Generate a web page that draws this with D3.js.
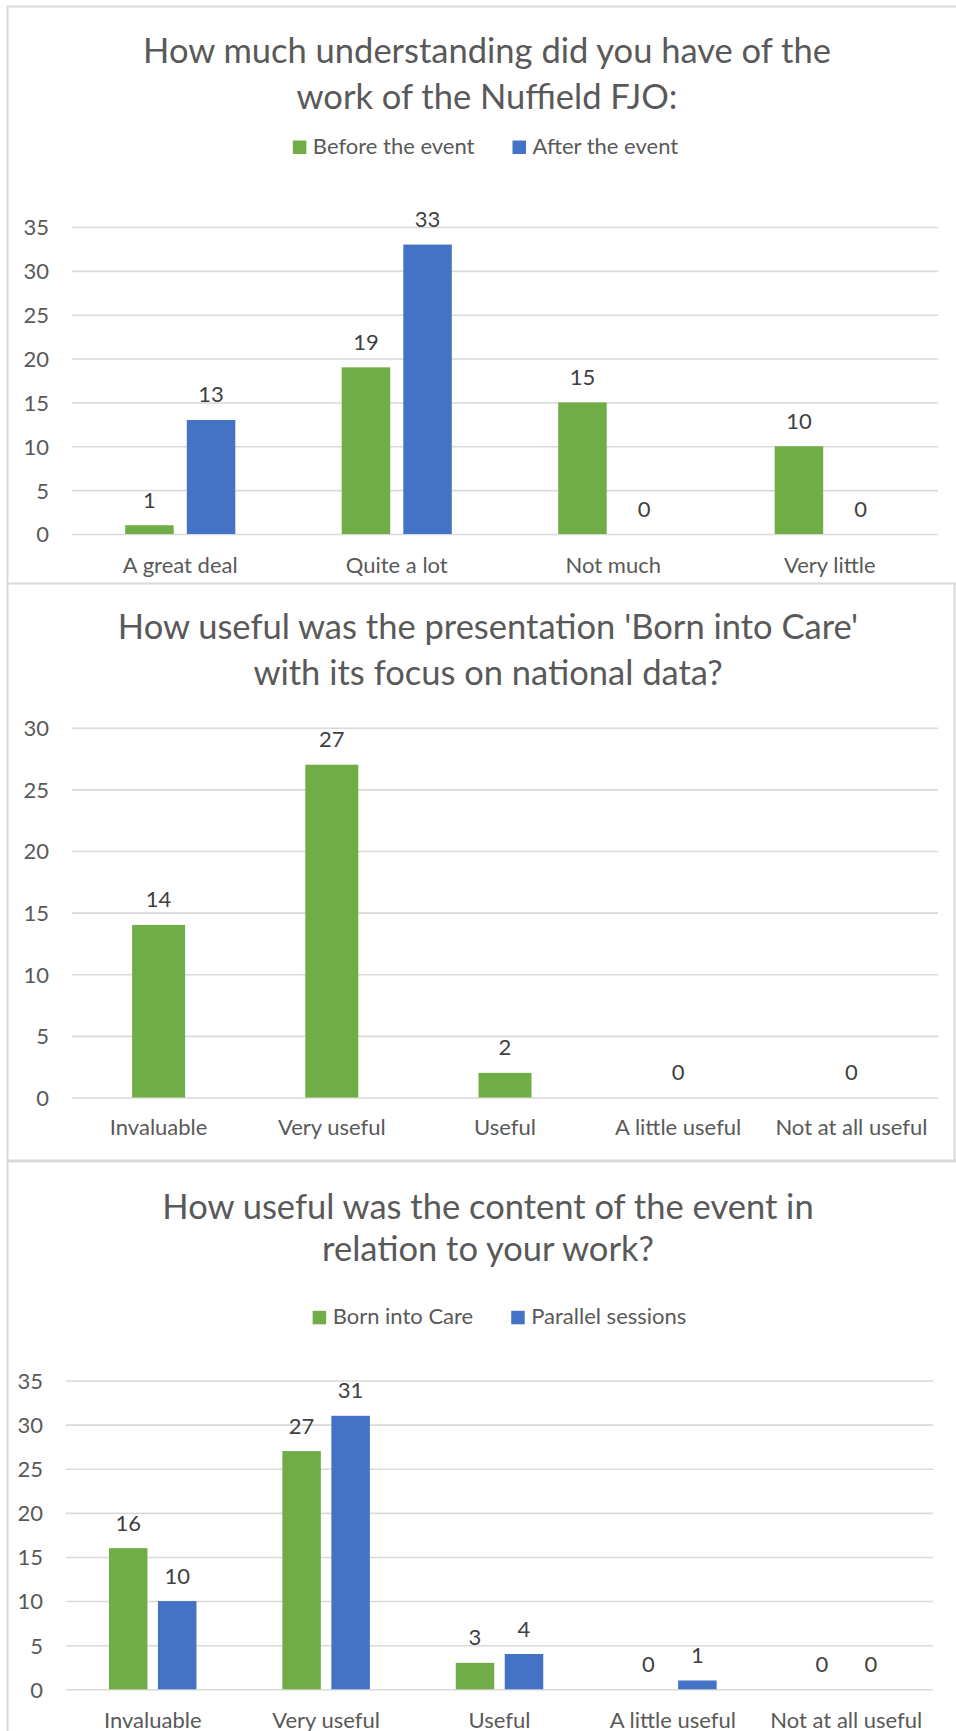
<!DOCTYPE html>
<html>
<head>
<meta charset="utf-8">
<script src="https://cdn.jsdelivr.net/npm/d3@7/dist/d3.min.js"></script>
<style>
  html, body { margin: 0; padding: 0; background: #ffffff; }
  svg { display: block; }
  text { font-family: "Lato", "Noto Sans", "Open Sans", sans-serif; }
</style>
</head>
<body>
<svg id="chart" width="956" height="1731"></svg>
<script>
// ---------- DATA ----------
const chart1Title = ["How much understanding did you have of the", "work of the Nuffield FJO:"];
const chart1Categories = ["A great deal", "Quite a lot", "Not much", "Very little"];
const chart1SeriesNames = ["Before the event", "After the event"];
const chart1Before = [1, 19, 15, 10];
const chart1After = [13, 33, 0, 0];
const chart1Ticks = [0, 5, 10, 15, 20, 25, 30, 35];

const chart2Title = ["How useful was the presentation 'Born into Care'", "with its focus on national data?"];
const chart2Categories = ["Invaluable", "Very useful", "Useful", "A little useful", "Not at all useful"];
const chart2Values = [14, 27, 2, 0, 0];
const chart2Ticks = [0, 5, 10, 15, 20, 25, 30];

const chart3Title = ["How useful was the content of the event in", "relation to your work?"];
const chart3Categories = ["Invaluable", "Very useful", "Useful", "A little useful", "Not at all useful"];
const chart3SeriesNames = ["Born into Care", "Parallel sessions"];
const chart3BornIntoCare = [16, 27, 3, 0, 0];
const chart3Parallel = [10, 31, 4, 1, 0];
const chart3Ticks = [0, 5, 10, 15, 20, 25, 30, 35];

const GREEN = "#70AD47";
const BLUE = "#4472C4";
const GRID = "#D9D9D9";
const TEXT = "#595959";
const LABEL = "#404040";

const svg = d3.select("#chart");

// ---------- FRAME ----------
const frame = svg.append("g");
frame.append("line").attr("x1", 7).attr("x2", 956).attr("y1", 6.5).attr("y2", 6.5)
  .attr("stroke", GRID).attr("stroke-width", 2);
frame.append("line").attr("x1", 7.5).attr("x2", 7.5).attr("y1", 6).attr("y2", 1731)
  .attr("stroke", GRID).attr("stroke-width", 2);
frame.append("line").attr("x1", 7).attr("x2", 956).attr("y1", 583.5).attr("y2", 583.5)
  .attr("stroke", GRID).attr("stroke-width", 2);
frame.append("line").attr("x1", 7).attr("x2", 956).attr("y1", 1161).attr("y2", 1161)
  .attr("stroke", GRID).attr("stroke-width", 3);
frame.append("line").attr("x1", 954.5).attr("x2", 954.5).attr("y1", 583).attr("y2", 1161)
  .attr("stroke", GRID).attr("stroke-width", 2);

// ---------- GENERIC CHART ----------
function drawChart(cfg) {
  const g = svg.append("g");

  // title
  cfg.title.forEach((line, i) => {
    g.append("text")
      .attr("x", cfg.titleX)
      .attr("y", cfg.titleY[i])
      .attr("text-anchor", "middle")
      .attr("font-size", 34.5)
      .attr("fill", TEXT)
      .text(line);
  });

  const y = d3.scaleLinear().domain([0, d3.max(cfg.ticks)]).range([cfg.y0, cfg.yTop]);
  const x = d3.scaleBand().domain(cfg.categories).range([cfg.xLeft, cfg.xRight]).paddingInner(0).paddingOuter(0);

  // gridlines
  const yAxis = d3.axisLeft(y).tickValues(cfg.ticks).tickSize(-(cfg.xRight - cfg.xLeft)).tickPadding(0).tickFormat(d3.format("d"));
  const ga = g.append("g").attr("transform", `translate(${cfg.xLeft},0)`).call(yAxis);
  ga.select(".domain").remove();
  ga.selectAll(".tick line").attr("stroke", GRID).attr("stroke-width", 1.6);
  ga.selectAll(".tick text")
    .attr("x", cfg.tickLabelX - cfg.xLeft)
    .attr("dy", "0.36em")
    .attr("font-size", 22)
    .attr("fill", TEXT)
    .attr("font-family", null);

  // x axis labels
  const xAxis = d3.axisBottom(x).tickSize(0).tickPadding(0);
  const gx = g.append("g").attr("transform", `translate(0,${cfg.y0})`).call(xAxis);
  gx.select(".domain").remove();
  gx.selectAll(".tick text")
    .attr("y", cfg.catLabelOffset)
    .attr("dy", 0)
    .attr("font-size", 22)
    .attr("fill", TEXT)
    .attr("font-family", null);

  // bars
  cfg.series.forEach((s, si) => {
    const sg = g.append("g");
    cfg.categories.forEach((c, ci) => {
      const v = s.values[ci];
      const cx = x(c) + x.bandwidth() / 2 + s.offset;
      if (v > 0) {
        sg.append("rect")
          .attr("x", cx - cfg.barWidth / 2)
          .attr("y", y(v))
          .attr("width", cfg.barWidth)
          .attr("height", y(0) - y(v))
          .attr("fill", s.color);
      }
      sg.append("text")
        .attr("x", cx)
        .attr("y", y(v) - 17.5)
        .attr("text-anchor", "middle")
        .attr("font-size", 22)
        .attr("fill", LABEL)
        .text(v);
    });
  });

  // legend
  if (cfg.legend) {
    const lg = g.append("g");
    const sq = 13.5, gapText = 6.5, gapItem = 38;
    let cursor = 0;
    cfg.series.forEach(s => {
      const it = lg.append("g");
      it.append("rect").attr("x", 0).attr("y", cfg.legendY - 13.5).attr("width", sq).attr("height", sq).attr("fill", s.color);
      const t = it.append("text").attr("x", sq + gapText).attr("y", cfg.legendY).attr("font-size", 22).attr("fill", TEXT).text(s.name);
      const w = sq + gapText + t.node().getComputedTextLength();
      it.attr("transform", `translate(${cursor},0)`);
      cursor += w + gapItem;
    });
    const total = cursor - gapItem;
    lg.attr("transform", `translate(${cfg.legendCenter - total / 2},0)`);
  }
}

drawChart({
  title: chart1Title, titleX: 487, titleY: [63, 108.5],
  categories: chart1Categories, ticks: chart1Ticks,
  y0: 534, yTop: 227, xLeft: 72, xRight: 938,
  tickLabelX: 49, catLabelOffset: 38.7, barWidth: 48.5,
  series: [
    { name: chart1SeriesNames[0], values: chart1Before, color: GREEN, offset: -30.8 },
    { name: chart1SeriesNames[1], values: chart1After, color: BLUE, offset: 30.8 }
  ],
  legend: true, legendY: 154, legendCenter: 485.5
});

drawChart({
  title: chart2Title, titleX: 488, titleY: [639, 684.5],
  categories: chart2Categories, ticks: chart2Ticks,
  y0: 1097.5, yTop: 727.7, xLeft: 72, xRight: 938,
  tickLabelX: 49, catLabelOffset: 37.5, barWidth: 53,
  series: [
    { name: "", values: chart2Values, color: GREEN, offset: 0 }
  ],
  legend: false
});

drawChart({
  title: chart3Title, titleX: 488, titleY: [1218.5, 1261],
  categories: chart3Categories, ticks: chart3Ticks,
  y0: 1689.3, yTop: 1380.5, xLeft: 66, xRight: 933,
  tickLabelX: 43, catLabelOffset: 38.7, barWidth: 38.5,
  series: [
    { name: chart3SeriesNames[0], values: chart3BornIntoCare, color: GREEN, offset: -24.5 },
    { name: chart3SeriesNames[1], values: chart3Parallel, color: BLUE, offset: 24.5 }
  ],
  legend: true, legendY: 1324.3, legendCenter: 499.5
});
</script>
</body>
</html>
